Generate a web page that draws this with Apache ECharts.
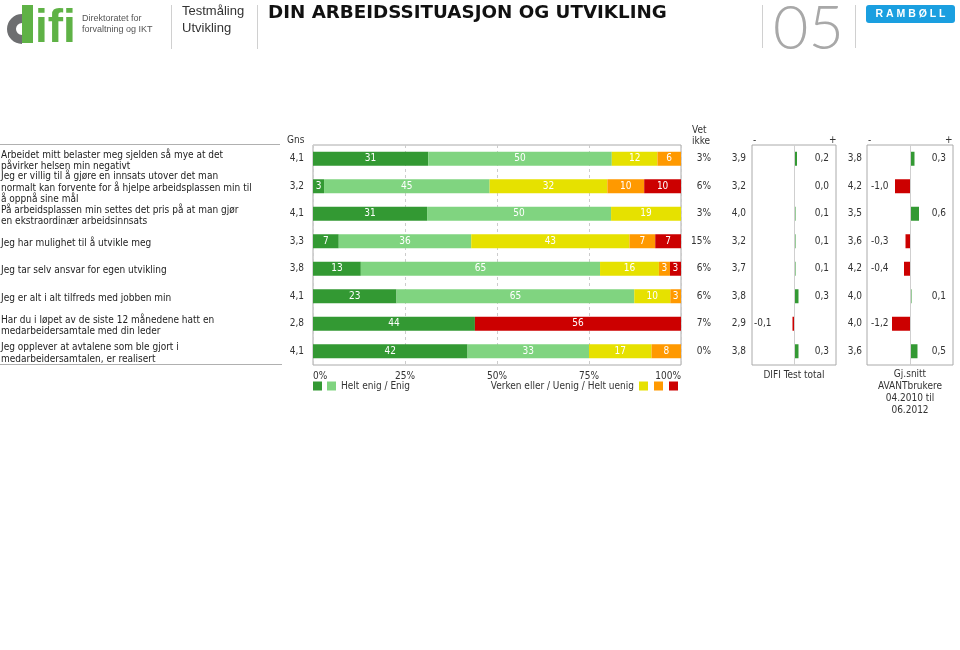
<!DOCTYPE html>
<html><head><meta charset="utf-8">
<script src="https://cdn.jsdelivr.net/npm/echarts@6/dist/echarts.min.js"></script>
<style>html,body{margin:0;padding:0;background:#fff}#c{width:960px;height:650px}</style>
</head><body><div id="c"></div>
<script>
const questions = [
  'Arbeidet mitt belaster meg sjelden så mye at det\npåvirker helsen min negativt',
  'Jeg er villig til å gjøre en innsats utover det man\nnormalt kan forvente for å hjelpe arbeidsplassen min til\nå oppnå sine mål',
  'På arbeidsplassen min settes det pris på at man gjør\nen ekstraordinær arbeidsinnsats',
  'Jeg har mulighet til å utvikle meg',
  'Jeg tar selv ansvar for egen utvikling',
  'Jeg er alt i alt tilfreds med jobben min',
  'Har du i løpet av de siste 12 månedene hatt en\nmedarbeidersamtale med din leder',
  'Jeg opplever at avtalene som ble gjort i\nmedarbeidersamtalen, er realisert'
];
const gns       = [4.1, 3.2, 4.1, 3.3, 3.8, 4.1, 2.8, 4.1];
const heltEnig  = [31.3, 3, 31, 7, 13, 22.7, 44, 42];
const enig      = [49.9, 45, 50, 36, 65, 64.6, 0, 33];
const verken    = [12.4, 32, 19, 43, 16, 9.8, 0, 17];
const uenig     = [6.4, 10, 0, 7, 3, 2.9, 0, 8];
const heltUenig = [0, 10, 0, 7, 3, 0, 56, 0];
const vetIkke   = [3, 6, 3, 15, 6, 6, 7, 0];
const difiAvg   = [3.9, 3.2, 4.0, 3.2, 3.7, 3.8, 2.9, 3.8];
const difiDiff  = [0.2, 0.0, 0.1, 0.1, 0.1, 0.3, -0.1, 0.3];
const avantAvg  = [3.8, 4.2, 3.5, 3.6, 4.2, 4.0, 4.0, 3.6];
const avantDiff = [0.3, -1.0, 0.6, -0.3, -0.4, 0.1, -1.2, 0.5];
const pctTicks  = [0, 25, 50, 75, 100];

const F = "'DejaVu Sans Condensed','DejaVu Sans',sans-serif";
const HF = "'Liberation Sans',Arial,sans-serif";
const FS = 10;
const fmt = v => v.toFixed(1).replace('.', ',');
const GREEN = '#339933', LGREEN = '#80d480', YELLOW = '#e6e100', ORANGE = '#ff9900', RED = '#cc0000';
const TXT = '#333';

const chart = echarts.init(document.getElementById('c'));

function cat(gridIndex, data, position, label) {
  return {
    type: 'category', gridIndex, data, inverse: true, position,
    axisLine: { show: false, onZero: false }, axisTick: { show: false }, splitLine: { show: false },
    axisLabel: Object.assign({ interval: 0, fontFamily: F, fontSize: FS, color: TXT }, label)
  };
}
const gridBase = { top: 145, height: 220, show: true, borderColor: '#aaa', borderWidth: 1, outerBoundsMode: 'none', containLabel: false };

const segs = [
  ['Helt enig', heltEnig, GREEN],
  ['Enig', enig, LGREEN],
  ['Verken eller', verken, YELLOW],
  ['Uenig', uenig, ORANGE],
  ['Helt uenig', heltUenig, RED]
];
const zeroLine = { symbol: 'none', silent: true, label: { show: false }, lineStyle: { color: '#cfcfcf', type: 'solid', width: 1 }, data: [{ xAxis: 0 }] };

function txt(x, y, text, o) {
  return { type: 'text', x, y, silent: true,
    style: Object.assign({ text, fill: TXT, font: FS + 'px ' + F, align: 'left', verticalAlign: 'middle' }, o || {}) };
}

const option = {
  animation: false,
  grid: [
    Object.assign({ left: 313, width: 368 }, gridBase),
    Object.assign({ left: 752, width: 84 }, gridBase),
    Object.assign({ left: 867, width: 86 }, gridBase)
  ],
  xAxis: [
    { type: 'value', gridIndex: 0, min: 0, max: 100, interval: 25,
      axisLine: { show: false }, axisTick: { show: false },
      axisLabel: { formatter: v => pctTicks.includes(v) ? v + '%' : '', alignMinLabel: 'left', alignMaxLabel: 'right', fontFamily: F, fontSize: FS, color: TXT, margin: 6 },
      splitLine: { show: true, lineStyle: { color: '#cccccc', type: [3, 3] } } },
    { type: 'value', gridIndex: 1, min: -2.8, max: 2.8, show: false },
    { type: 'value', gridIndex: 2, min: -2.87, max: 2.87, show: false }
  ],
  yAxis: [
    cat(0, questions, 'left', {
      align: 'left', margin: 312,
      formatter: v => '{s| }\n' + v.split('\n').map(l => '{q|' + l + '}').join('\n'),
      rich: {
        s: { fontSize: 1, lineHeight: 4 },
        q: { fontSize: FS, fontFamily: F, lineHeight: 11.5, color: '#222' }
      }
    }),
    cat(0, gns.map(fmt), 'left', { margin: 9 }),
    cat(0, vetIkke.map(v => v + '%'), 'right', { align: 'right', margin: 30 }),
    cat(1, difiAvg.map(fmt), 'left', { margin: 6 }),
    cat(1, difiDiff.map(v => v >= 0 ? fmt(v) : ''), 'right', { inside: true, align: 'right', margin: 7 }),
    cat(1, difiDiff.map(v => v < 0 ? fmt(v) : ''), 'left', { inside: true, align: 'left', margin: 2 }),
    cat(2, avantAvg.map(fmt), 'left', { margin: 5 }),
    cat(2, avantDiff.map(v => v >= 0 ? fmt(v) : ''), 'right', { inside: true, align: 'right', margin: 7 }),
    cat(2, avantDiff.map(v => v < 0 ? fmt(v) : ''), 'left', { inside: true, align: 'left', margin: 4 })
  ],
  legend: [
    { left: 313, top: 381, padding: 0, itemWidth: 9, itemHeight: 9, itemGap: 5, icon: 'rect', selectedMode: false,
      data: ['Helt enig', 'Enig'], formatter: n => n === 'Enig' ? 'Helt enig / Enig' : '',
      textStyle: { fontFamily: F, fontSize: FS, color: TXT } },
    { right: 282, top: 381, padding: 0, itemWidth: 9, itemHeight: 9, itemGap: 6, icon: 'rect', align: 'right', selectedMode: false,
      data: ['Verken eller', 'Uenig', 'Helt uenig'], formatter: n => n === 'Verken eller' ? 'Verken eller / Uenig / Helt uenig' : '',
      textStyle: { fontFamily: F, fontSize: FS, color: TXT } }
  ],
  series: segs.map(([name, data, color]) => ({
    name, type: 'bar', stack: 'total', xAxisIndex: 0, yAxisIndex: 0, data, barWidth: 14,
    itemStyle: { color }, emphasis: { disabled: true },
    label: { show: true, position: 'inside', color: '#fff', fontFamily: F, fontSize: FS, formatter: p => p.value > 0 ? Math.round(p.value) : '' }
  })).concat([
    { name: 'DIFI', type: 'bar', xAxisIndex: 1, yAxisIndex: 3, data: difiDiff, barWidth: 14, emphasis: { disabled: true },
      itemStyle: { color: p => p.value >= 0 ? GREEN : RED }, markLine: zeroLine },
    { name: 'AVANT', type: 'bar', xAxisIndex: 2, yAxisIndex: 6, data: avantDiff, barWidth: 14, emphasis: { disabled: true },
      itemStyle: { color: p => p.value >= 0 ? GREEN : RED }, markLine: zeroLine }
  ]),
  graphic: [
    // header logos and titles
    { type: 'sector', silent: true, shape: { cx: 22, cy: 29, r: 15, r0: 6, startAngle: Math.PI / 2, endAngle: Math.PI * 1.5 }, style: { fill: '#6d6e70' } },
    { type: 'rect', silent: true, shape: { x: 22, y: 5, width: 11, height: 38 }, style: { fill: '#5fb246' } },
    txt(35, 52, 'ifi', { font: 'bold 46px ' + HF, fill: '#5fb246', verticalAlign: 'bottom' }),
    txt(82, 19, 'Direktoratet for', { font: '9px ' + HF, fill: '#555' }),
    txt(82, 30, 'forvaltning og IKT', { font: '9px ' + HF, fill: '#555' }),
    { type: 'line', silent: true, shape: { x1: 171.5, y1: 5, x2: 171.5, y2: 49 }, style: { stroke: '#d0d0d0', lineWidth: 1 } },
    txt(182, 11, 'Testmåling', { font: '13px ' + HF, fill: '#333' }),
    txt(182, 28, 'Utvikling', { font: '13px ' + HF, fill: '#333' }),
    { type: 'line', silent: true, shape: { x1: 257.5, y1: 5, x2: 257.5, y2: 49 }, style: { stroke: '#d0d0d0', lineWidth: 1 } },
    txt(268, 13, 'DIN ARBEIDSSITUASJON OG UTVIKLING', { font: 'bold 18.3px "DejaVu Sans",sans-serif', fill: '#111' }),
    { type: 'line', silent: true, shape: { x1: 762.5, y1: 5, x2: 762.5, y2: 48 }, style: { stroke: '#d0d0d0', lineWidth: 1 } },
    txt(773, 29, '05', { font: '300 61px Lato,' + HF, fill: '#a8a8a8' }),
    { type: 'line', silent: true, shape: { x1: 855.5, y1: 5, x2: 855.5, y2: 48 }, style: { stroke: '#d0d0d0', lineWidth: 1 } },
    { type: 'rect', silent: true, shape: { x: 866, y: 5, width: 89, height: 18, r: 3 }, style: { fill: '#1a9fe0' } },
    txt(910.5, 14.5, 'R A M B Ø L L', { font: 'bold 10.5px ' + HF, fill: '#fff', align: 'center' }),
    // table headers / rules
    { type: 'line', silent: true, shape: { x1: 0, y1: 144.5, x2: 280, y2: 144.5 }, style: { stroke: '#b0b0b0', lineWidth: 1 } },
    { type: 'line', silent: true, shape: { x1: 0, y1: 364.5, x2: 282, y2: 364.5 }, style: { stroke: '#b0b0b0', lineWidth: 1 } },
    txt(287, 140, 'Gns'),
    txt(692, 130, 'Vet'),
    txt(692, 141, 'ikke'),
    txt(753, 140, '-'),
    txt(829, 140, '+'),
    txt(868, 140, '-'),
    txt(945, 140, '+'),
    // footer labels
    txt(794, 375, 'DIFI Test total', { align: 'center' }),
    txt(910, 369, 'Gj.snitt\nAVANTbrukere\n04.2010 til\n06.2012', { align: 'center', verticalAlign: 'top', lineHeight: 11.7 })
  ]
};
chart.setOption(option);
</script></body></html>
